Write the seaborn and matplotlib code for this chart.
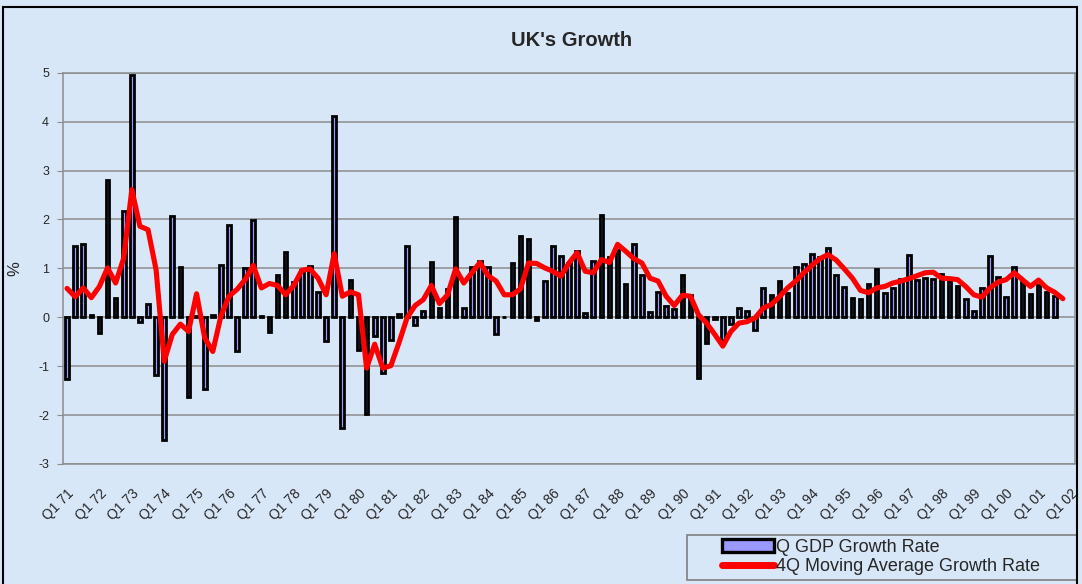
import numpy as np
import pandas as pd
import matplotlib
matplotlib.use("Agg")
import matplotlib.pyplot as plt
import matplotlib.transforms as mtransforms
from matplotlib.patches import Patch, Rectangle
from matplotlib.lines import Line2D
import seaborn as sns

# ----------------------------
# DATA
# ----------------------------

years = [str(y)[-2:] for y in range(1971, 2003)]
quarters = [f"Q{q} {y}" for y in years for q in range(1, 5)][:125]  # Q1 71 .. Q1 02

gdp_growth = [
    -1.26, 1.45, 1.49, 0.05, -0.33, 2.81, 0.39, 2.17, 4.96, -0.09,
    0.27, -1.19, -2.50, 2.07, 1.03, -1.63, 0.02, -1.47, 0.05, 1.06,
    1.89, -0.68, 1.01, 1.98, 0.03, -0.31, 0.86, 1.33, 0.73, 0.97,
    1.04, 0.52, -0.49, 4.11, -2.26, 0.77, -0.66, -1.97, -0.39, -1.14,
    -0.46, 0.075, 1.45, -0.15, 0.12, 1.12, 0.18, 0.57, 2.05, 0.18,
    1.03, 1.15, 1.03, -0.35, 0.01, 1.11, 1.67, 1.61, -0.05, 0.74,
    1.45, 1.25, 1.10, 1.35, 0.09, 1.15, 2.09, 1.23, 1.38, 0.68,
    1.49, 0.86, 0.11, 0.52, 0.24, 0.16, 0.86, 0.46, -1.24, -0.52,
    -0.03, -0.46, -0.14, 0.19, 0.12, -0.27, 0.59, 0.46, 0.74, 0.50,
    1.03, 1.09, 1.30, 1.23, 1.42, 0.86, 0.61, 0.39, 0.37, 0.68,
    0.99, 0.50, 0.60, 0.79, 1.27, 0.76, 0.80, 0.79, 0.89, 0.74,
    0.63, 0.38, 0.12, 0.59, 1.26, 0.82, 0.41, 1.03, 0.74, 0.48,
    0.65, 0.51, 0.44,
]

ma_growth = [
    0.59, 0.42, 0.60, 0.40, 0.63, 1.01, 0.70, 1.21, 2.61, 1.86,
    1.79, 0.97, -0.90, -0.35, -0.14, -0.29, 0.48, -0.42, -0.70, 0.02,
    0.43, 0.57, 0.77, 1.06, 0.60, 0.69, 0.65, 0.46, 0.65, 0.96,
    0.99, 0.80, 0.46, 1.30, 0.43, 0.52, 0.46, -1.04, -0.55, -1.04,
    -0.99, -0.52, -0.01, 0.24, 0.36, 0.65, 0.28, 0.46, 0.99, 0.70,
    0.91, 1.12, 0.85, 0.74, 0.46, 0.46, 0.58, 1.11, 1.10, 1.01,
    0.94, 0.84, 1.11, 1.32, 0.94, 0.91, 1.18, 1.12, 1.49, 1.35,
    1.20, 1.11, 0.80, 0.74, 0.43, 0.24, 0.45, 0.43, 0.05, -0.12,
    -0.35, -0.59, -0.29, -0.12, -0.09, -0.01, 0.19, 0.26, 0.42, 0.60,
    0.74, 0.91, 1.06, 1.20, 1.28, 1.17, 0.99, 0.80, 0.55, 0.50,
    0.60, 0.63, 0.70, 0.74, 0.79, 0.85, 0.91, 0.92, 0.80, 0.79,
    0.77, 0.63, 0.46, 0.41, 0.60, 0.72, 0.77, 0.91, 0.77, 0.63,
    0.76, 0.60, 0.51, 0.38,
]

bars = pd.DataFrame({"pos": np.arange(len(gdp_growth)), "growth": gdp_growth})
line = pd.DataFrame({"pos": np.arange(len(ma_growth)), "growth": ma_growth})

# ----------------------------
# PLOT
# ----------------------------

bg = "#D8E7F8"
sns.set_style("white")
plt.rcParams["font.family"] = ["Liberation Sans", "DejaVu Sans"]
plt.rcParams["axes.unicode_minus"] = False

fig = plt.figure(figsize=(10.82, 5.84), dpi=100, facecolor=bg)
ax = fig.add_axes([63 / 1082, 1 - 464 / 584, 1012 / 1082, (464 - 72.7) / 584])
ax.set_facecolor(bg)

sns.barplot(data=bars, x="pos", y="growth", native_scale=True, width=0.45,
            color="#9999FF", saturation=1, edgecolor="black", linewidth=2.0,
            errorbar=None, ax=ax)
sns.lineplot(data=line, x="pos", y="growth", color="#FF0000", linewidth=3.7,
             ax=ax, zorder=5)

ax.set_xlim(-0.5, len(quarters) - 0.5)
ax.set_ylim(-3, 5)
ax.set_yticks(range(-3, 6))
ax.yaxis.grid(True, color="#8C8C8C", linewidth=1.1)
ax.set_axisbelow(True)
for s in ax.spines.values():
    s.set_color("#8C8C8C")
    s.set_linewidth(1.1)

ticks = list(range(0, len(quarters), 4))
ax.set_xticks(ticks)
ax.set_xticklabels([quarters[i] for i in ticks], rotation=45, ha="right",
                   va="top", rotation_mode="anchor", fontsize=10)
shift = mtransforms.ScaledTranslation(-8 / 100, 0, fig.dpi_scale_trans)
for lab in ax.get_xticklabels():
    lab.set_transform(lab.get_transform() + shift)
ax.tick_params(axis="x", length=0, pad=16)
ax.tick_params(axis="y", length=4, color="#8C8C8C", labelsize=9, pad=6, left=True)
ax.set_xlabel("")
ax.set_ylabel("%", fontsize=12)
ax.yaxis.set_label_coords((22 - 63) / 1012, 0.5)

fig.text(0.528, 1 - 40 / 584, "UK's Growth", ha="center", va="center",
         fontsize=14.5, fontweight="bold")

# legend: frame drawn separately so the box can be wider than its text
handles = [
    Patch(facecolor="#9999FF", edgecolor="black", linewidth=2.4),
    Line2D([], [], color="#FF0000", linewidth=5),
]
fig.legend(handles, ["Q GDP Growth Rate", "4Q Moving Average Growth Rate"],
           loc="lower left", bbox_to_anchor=(722 / 1082, 9 / 584),
           fontsize=13, frameon=False, handlelength=2.9, handleheight=0.75,
           handletextpad=0.1, borderpad=0, labelspacing=0.12, borderaxespad=0)
fig.patches.append(Rectangle((687 / 1082, 4 / 584), 390 / 1082, 45 / 584,
                             transform=fig.transFigure, fill=False,
                             edgecolor="#7F7F7F", linewidth=1.2))

# outer chart border
fig.patches.append(Rectangle((3 / 1082, -0.01), 1074 / 1082, 1 - 7 / 584 + 0.01,
                             transform=fig.transFigure, fill=False,
                             edgecolor="black", linewidth=1.5))

fig.savefig("out.png", dpi=100, facecolor=bg)
